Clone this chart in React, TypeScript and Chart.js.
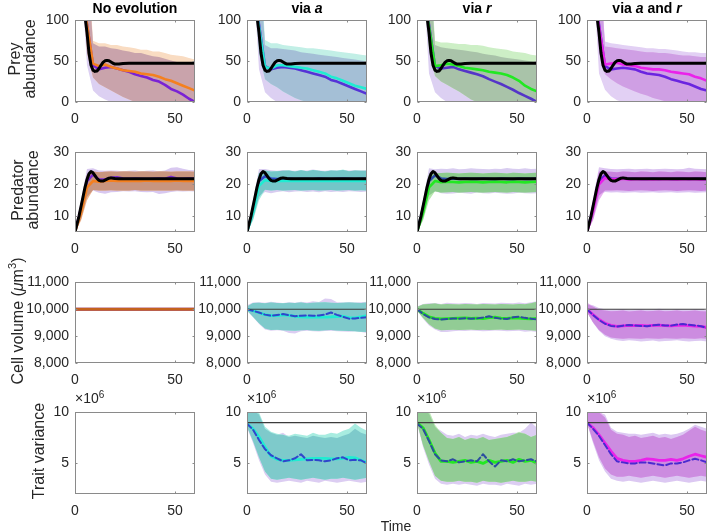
import React, { useEffect, useRef } from 'react';
import { Chart, registerables } from 'chart.js';
Chart.register(...registerables);

const FONT = '"Liberation Sans", Arial, Helvetica, sans-serif';
const TXT = '#262626';

// ---------- time axes ----------
const T = [0, 3, 6, 9, 12, 15, 18, 21, 24, 27, 30, 33, 36, 39, 42, 45, 48, 51, 54, 57, 60];
const TB = [0, 1, 2, 3, 4, 5, 6, 7, 8, 9, 10, 11, 12, 13, 14, 15, 16, 17, 18, 19, 20, 22, 24, 27, 30, 40, 50, 60];
const T_FLAT = [0, 60];

// ---------- deterministic (black) ----------
const PREY_BLACK = [400, 330, 260, 200, 150, 105, 85, 60, 45, 39, 37.5, 38, 41, 45, 48.5, 50.5, 51, 50.5, 49, 47.5, 46.5, 46.5, 47.2, 47.5, 47.5, 47.5, 47.5, 47.5];
const PRED_BLACK = [5, 7.5, 10, 13, 16, 19, 21.5, 23.3, 24, 23.6, 22.7, 21.8, 21.2, 21, 21, 21.3, 21.6, 21.9, 22, 21.9, 21.8, 21.7, 21.7, 21.7, 21.7, 21.7, 21.7, 21.7];
const VOL_BLACK = [10000, 10000];
const VAR_BLACK = [9, 9];

// ---------- tick labels ----------
const X_TICKS = [0, 50];
const PREY_TICKS = [0, 50, 100];
const PRED_TICKS = [10, 20, 30];
const VOL_TICKS = [8000, 9000, 10000, 11000];
const VAR_TICKS = [5, 10];

// ---------- Row 1: prey abundance ----------
const PREY_P1 = [160, 135, 95, 45, 40, 42, 43, 41, 39, 37, 34, 32, 30, 27, 25, 21, 16, 13, 9, 4, 0];
const PREY_C1 = [160, 135, 95, 47, 44, 46, 43, 41, 39, 38, 37, 35, 34, 33, 31, 28, 26, 23, 20, 17, 14];
const PREY_PHI1 = [400, 300, 180, 72, 68, 68, 66, 65, 63, 62, 60, 60, 58, 56, 55, 53, 51, 49, 48, 47, 46];
const PREY_PLO1 = [200, 160, 45, 14, 7, 3, 0, 0, 0, 0, 0, 0, 0, 0, 0, 0, 0, 0, 0, 0, 0];
const PREY_CHI1 = [450, 320, 200, 75, 72, 72, 70, 70, 68, 67, 66, 64, 64, 62, 62, 60, 58, 57, 56, 54, 52];
const PREY_CLO1 = [220, 170, 60, 30, 22, 18, 14, 10, 6, 3, 0, 0, 0, 0, 0, 0, 0, 0, 0, 0, 0];

const PREY_P2 = [160, 135, 95, 44, 40, 42, 43, 42, 41, 39, 37, 35, 33, 31, 27, 25, 22, 19, 16, 13, 10];
const PREY_C2 = [160, 135, 92, 43, 41, 45, 45, 44, 43, 42, 41, 39, 37, 35, 31, 29, 26, 23, 20, 18, 16];
const PREY_PHI2 = [400, 300, 180, 70, 66, 66, 65, 64, 63, 61, 60, 59, 58, 57, 56, 55, 54, 53, 52, 51, 50];
const PREY_PLO2 = [200, 160, 40, 12, 5, 0, 0, 0, 0, 0, 0, 0, 0, 0, 0, 0, 0, 0, 0, 0, 0];
const PREY_CHI2 = [450, 320, 200, 76, 72, 72, 70, 69, 68, 67, 66, 66, 65, 64, 63, 62, 61, 60, 59, 58, 57];
const PREY_CLO2 = [220, 170, 60, 28, 22, 18, 13, 9, 5, 2, 0, 0, 0, 0, 0, 0, 0, 0, 0, 0, 0];

const PREY_P3 = [160, 135, 95, 44, 41, 42, 43, 40, 38, 36, 34, 31.5, 28, 25, 22, 18.5, 15, 11, 7.5, 4, 0];
const PREY_C3 = [160, 135, 92, 44, 45, 47, 46, 44, 42, 41, 40, 39, 37, 36, 35, 33, 30, 26, 20, 16, 13];
const PREY_PHI3 = [400, 300, 180, 70, 67, 66, 65, 64, 63, 62, 61, 59, 58, 57, 55, 54, 53, 52, 51, 50, 49];
const PREY_PLO3 = [200, 160, 35, 12, 5, 0, 0, 0, 0, 0, 0, 0, 0, 0, 0, 0, 0, 0, 0, 0, 0];
const PREY_CHI3 = [450, 320, 200, 75, 73, 73, 72, 71, 71, 70, 70, 69, 67, 66, 65, 64, 62, 61, 60, 58, 57];
const PREY_CLO3 = [220, 170, 65, 32, 25, 21, 17, 13, 8, 3, 0, 0, 0, 0, 0, 0, 0, 0, 0, 0, 0];

const PREY_P4 = [160, 135, 95, 44, 40, 41, 42, 41, 40, 37, 35, 34, 33, 31, 28, 26, 24, 22, 19, 16, 14];
const PREY_C4 = [160, 135, 92, 46, 47, 48, 46, 45, 44, 42, 41, 40, 40, 39, 37, 36, 35, 34, 31, 29, 26];
const PREY_PHI4 = [400, 300, 180, 74, 72, 71, 70, 69, 68, 67, 66, 66, 65, 65, 64, 63, 62, 61, 61, 60, 60];
const PREY_PLO4 = [200, 160, 35, 15, 7, 2, 0, 0, 0, 0, 0, 0, 0, 0, 0, 0, 0, 0, 0, 0, 0];
const PREY_CHI4 = [450, 320, 200, 68, 67, 66, 65, 64, 63, 62, 61, 61, 60, 60, 59, 58, 57, 57, 56, 55, 55];
const PREY_CLO4 = [220, 170, 62, 34, 28, 23, 19, 16, 13, 10, 8, 5, 3, 1, 0, 0, 0, 0, 0, 0, 0];

// ---------- Row 2: predator abundance ----------
const PRED_P1 = [5, 12.5, 21, 23, 21.5, 21.5, 22, 22.2, 21.8, 21.7, 21.8, 21.7, 21.6, 21.7, 21.8, 21.7, 22.3, 21.8, 21.7, 21.8, 21.7];
const PRED_C1 = [5, 11, 19, 21, 20.8, 21, 21.2, 21, 21, 21.1, 21, 21, 21.2, 21, 21, 21.1, 21, 21.2, 21, 21, 21];
const PRED_PHI1 = [5.5, 15, 24.8, 25, 24.3, 24.2, 24.3, 24.2, 24.1, 24.2, 24.3, 24.1, 24.2, 24.3, 24.1, 24.3, 25.2, 25.3, 24.9, 24.5, 24.4];
const PRED_PLO1 = [5, 9, 16, 18, 17.3, 17, 17.5, 17.6, 17.8, 17.7, 17.8, 17.6, 17.5, 17.6, 16.9, 17.2, 17.6, 17.8, 17.7, 17.8, 17.7];
const PRED_CHI1 = [5.5, 14, 23, 24, 23.8, 23.9, 24, 23.9, 24, 24, 23.9, 24, 24, 23.9, 24, 24, 23.9, 24, 24, 24, 23.9];
const PRED_CLO1 = [5, 8.5, 15, 18.2, 18, 18, 18.1, 18, 18, 18, 18.2, 18, 18, 18, 18, 18, 18, 18.1, 18, 18, 18];

const PRED_P2 = [5, 12, 21, 22.5, 21.8, 21.6, 21.7, 21.8, 21.6, 21.7, 21.7, 21.6, 21.8, 21.7, 21.6, 21.7, 21.8, 21.7, 21.6, 21.7, 21.7];
const PRED_C2 = [5, 11, 19.5, 21.3, 21, 21, 21.1, 21, 21.1, 21, 21, 21, 21.1, 21, 21, 21.1, 21, 21.1, 21, 21, 21];
const PRED_PHI2 = [5.5, 15, 24.8, 24.8, 24.4, 24.2, 24.5, 24.3, 24.2, 24.4, 24.3, 24.6, 24.3, 24.2, 24.4, 24.3, 24.5, 24.3, 24.4, 24.3, 24.4];
const PRED_PLO2 = [5, 9, 16, 17.6, 17.2, 17.6, 17.8, 17.5, 17.7, 17.8, 17.6, 17.7, 17.5, 17.8, 17.6, 17.7, 17.6, 17.8, 17.7, 17.6, 17.7];
const PRED_CHI2 = [5.5, 14, 23.5, 24.3, 24, 24.1, 24.2, 24.3, 24, 24.4, 24.1, 24.5, 24.2, 24, 24.3, 24.2, 24.6, 24.1, 24.3, 24.2, 24.2];
const PRED_CLO2 = [5, 8.5, 15, 18.3, 18, 18.2, 18, 18.1, 18.2, 18, 18.1, 18.2, 18, 18.1, 18.2, 18, 18.1, 18.2, 18, 18.1, 18];

const PRED_P3 = [5, 12.5, 21, 22.8, 21.8, 21.6, 21.8, 21.7, 21.8, 21.7, 21.7, 21.8, 21.7, 21.6, 21.8, 21.7, 21.6, 21.8, 21.7, 21.7, 21.8];
const PRED_C3 = [5, 11, 19, 21, 20.6, 20.8, 20.7, 20.6, 20.7, 20.8, 20.7, 20.6, 20.7, 20.8, 20.7, 20.6, 20.8, 20.7, 20.6, 20.7, 20.8];
const PRED_PHI3 = [5.5, 15, 25, 24.7, 24.9, 24.8, 25, 24.7, 24.8, 25, 24.9, 24.8, 24.7, 24.9, 24.8, 25.1, 24.9, 24.8, 25, 24.8, 24.9];
const PRED_PLO3 = [5, 9, 16.5, 17.8, 17.2, 17, 17.1, 17.3, 17.2, 17, 17.4, 17.2, 17.1, 17.3, 17.2, 17, 17.1, 17.3, 17.2, 17.1, 17.2];
const PRED_CHI3 = [5.5, 14, 23, 23.4, 23.5, 23.6, 23.5, 23.4, 23.5, 23.6, 23.5, 23.4, 23.5, 23.6, 23.5, 23.4, 23.6, 23.5, 23.4, 23.5, 23.6];
const PRED_CLO3 = [5, 8.5, 15, 17.8, 17.4, 17.5, 17.6, 17.4, 17.5, 17.6, 17.5, 17.4, 17.5, 17.6, 17.5, 17.4, 17.6, 17.5, 17.4, 17.5, 17.6];

const PRED_P4 = [5, 12.5, 21, 22.8, 21.8, 21.7, 21.8, 21.7, 21.8, 21.7, 21.7, 21.8, 21.7, 21.8, 21.7, 21.7, 21.8, 21.7, 21.8, 21.7, 21.7];
const PRED_C4 = [5, 11.5, 20, 22, 21.5, 21.6, 21.7, 21.5, 21.6, 21.7, 21.6, 21.5, 21.6, 21.7, 21.6, 21.5, 21.6, 21.7, 21.6, 21.5, 21.6];
const PRED_PHI4 = [5.5, 15.5, 25.3, 25, 24.8, 24.7, 24.8, 24.9, 24.7, 24.8, 24.9, 24.7, 24.8, 24.9, 24.8, 24.7, 24.8, 25.2, 24.9, 24.8, 24.7];
const PRED_PLO4 = [5, 9, 16.5, 17.6, 17.4, 17.5, 17.3, 17.4, 17.5, 17.3, 17.4, 17.5, 17.3, 17.4, 17.5, 17.3, 17.4, 17.5, 17.3, 17.4, 17.5];
const PRED_CHI4 = [5.5, 14.5, 24, 24, 23.9, 23.8, 24, 23.9, 23.8, 24, 23.9, 23.8, 24, 23.9, 23.8, 24, 23.9, 23.8, 24, 23.9, 23.8];
const PRED_CLO4 = [5, 8.5, 15, 18, 18, 18.1, 18, 17.9, 18, 18.1, 18, 17.9, 18, 18.1, 18, 17.9, 18, 18.1, 18, 17.9, 18];

// ---------- Row 3: cell volume ----------
const VOL_P1 = [10000, 10000];
const VOL_C1 = [10000, 10000];

const VOL_P2 = [10000, 9940, 9880, 9800, 9760, 9790, 9820, 9780, 9740, 9760, 9770, 9760, 9770, 9800, 9880, 9790, 9720, 9650, 9660, 9680, 9700];
const VOL_C2 = [10000, 9950, 9870, 9800, 9760, 9760, 9790, 9770, 9740, 9720, 9705, 9705, 9710, 9705, 9715, 9730, 9740, 9690, 9680, 9720, 9760];
const VOL_PHI2 = [10150, 10250, 10260, 10240, 10280, 10250, 10230, 10260, 10240, 10280, 10250, 10300, 10270, 10400, 10380, 10260, 10250, 10270, 10250, 10260, 10280];
const VOL_PLO2 = [9950, 9700, 9450, 9250, 9200, 9220, 9200, 9120, 9100, 9180, 9200, 9180, 9170, 9190, 9200, 9180, 9170, 9160, 9180, 9150, 9120];
const VOL_CHI2 = [10100, 10230, 10240, 10220, 10250, 10230, 10220, 10240, 10230, 10250, 10220, 10240, 10250, 10260, 10240, 10230, 10240, 10250, 10240, 10230, 10250];
const VOL_CLO2 = [9950, 9720, 9480, 9280, 9230, 9240, 9220, 9210, 9200, 9220, 9230, 9210, 9200, 9220, 9230, 9210, 9200, 9190, 9180, 9160, 9150];

const VOL_P3 = [10000, 9830, 9700, 9640, 9620, 9640, 9660, 9650, 9670, 9650, 9660, 9690, 9740, 9680, 9650, 9640, 9700, 9720, 9680, 9650, 9620];
const VOL_C3 = [10000, 9850, 9720, 9660, 9640, 9650, 9660, 9670, 9680, 9660, 9670, 9650, 9690, 9710, 9670, 9660, 9680, 9670, 9650, 9640, 9660];
const VOL_PHI3 = [10100, 10200, 10220, 10230, 10200, 10240, 10220, 10210, 10230, 10220, 10200, 10230, 10220, 10210, 10240, 10230, 10220, 10250, 10220, 10260, 10300];
const VOL_PLO3 = [9950, 9650, 9400, 9250, 9150, 9150, 9180, 9200, 9190, 9210, 9200, 9180, 9190, 9210, 9200, 9180, 9190, 9200, 9160, 9180, 9150];
const VOL_CHI3 = [10080, 10180, 10200, 10210, 10180, 10200, 10190, 10180, 10200, 10190, 10180, 10200, 10190, 10180, 10200, 10190, 10180, 10200, 10190, 10220, 10280];
const VOL_CLO3 = [9950, 9680, 9440, 9280, 9220, 9230, 9240, 9230, 9240, 9250, 9230, 9240, 9230, 9240, 9250, 9230, 9240, 9250, 9230, 9220, 9200];

const VOL_P4 = [10000, 9790, 9600, 9460, 9380, 9360, 9390, 9410, 9400, 9380, 9370, 9400, 9420, 9400, 9390, 9430, 9450, 9420, 9400, 9370, 9300];
const VOL_C4 = [10000, 9800, 9620, 9480, 9400, 9360, 9380, 9400, 9390, 9400, 9380, 9400, 9410, 9390, 9380, 9400, 9410, 9390, 9370, 9360, 9320];
const VOL_PHI4 = [10200, 10150, 10050, 10000, 9990, 10000, 10010, 9980, 10000, 10010, 9990, 10000, 10020, 10000, 9990, 10010, 10000, 9990, 10010, 10000, 9990];
const VOL_PLO4 = [9900, 9500, 9200, 9000, 8900, 8850, 8820, 8850, 8830, 8800, 8820, 8840, 8800, 8820, 8830, 8850, 8820, 8800, 8820, 8830, 8800];
const VOL_CHI4 = [10250, 10100, 9980, 9950, 9930, 9940, 9950, 9920, 9940, 9950, 9930, 9940, 9950, 9930, 9940, 9950, 9930, 9940, 9950, 9930, 9920];
const VOL_CLO4 = [9900, 9520, 9230, 9050, 8950, 8920, 8900, 8920, 8910, 8900, 8920, 8910, 8900, 8920, 8910, 8900, 8920, 8910, 8900, 8920, 8900];

// ---------- Row 4: trait variance (x10^6) ----------
const VAR_P2 = [8.9, 8.3, 7.3, 6.4, 5.8, 5.5, 5.2, 5.3, 5.5, 5.9, 5.3, 5.35, 5.3, 5.2, 5.3, 5.5, 5.6, 5.3, 5.35, 5.3, 5.0];
const VAR_C2 = [8.9, 8.4, 7.6, 6.6, 5.7, 5.4, 5.3, 5.3, 5.35, 5.4, 5.45, 5.5, 5.5, 5.5, 5.45, 5.45, 5.5, 5.6, 5.55, 5.3, 5.1];
const VAR_PHI2 = [10.3, 10.2, 9.8, 8.4, 8.0, 7.8, 8.0, 7.6, 7.7, 7.6, 7.5, 7.7, 7.6, 7.5, 7.6, 7.5, 7.7, 7.9, 8.4, 8.0, 7.8];
const VAR_PLO2 = [8.5, 7.0, 5.3, 3.9, 3.2, 3.1, 3.2, 3.3, 3.2, 3.1, 3.3, 3.2, 3.1, 3.3, 3.2, 3.1, 3.2, 3.3, 3.2, 3.1, 3.2];
const VAR_CHI2 = [10.5, 10.4, 10.0, 8.6, 8.1, 7.9, 7.8, 7.7, 7.9, 7.8, 7.7, 8.0, 7.8, 7.8, 8.0, 7.9, 8.2, 8.4, 8.9, 8.5, 8.2];
const VAR_CLO2 = [8.6, 7.2, 5.6, 4.2, 3.5, 3.4, 3.5, 3.6, 3.5, 3.4, 3.5, 3.6, 3.5, 3.4, 3.5, 3.5, 3.6, 3.5, 3.4, 3.5, 3.6];

const VAR_P3 = [8.9, 8.4, 7.2, 5.9, 5.3, 5.2, 5.4, 5.1, 5.2, 5.3, 5.2, 5.9, 5.2, 4.7, 5.3, 5.2, 5.4, 5.2, 5.3, 5.4, 5.2];
const VAR_C3 = [9.0, 8.5, 7.3, 6.0, 5.2, 5.2, 5.1, 5.2, 5.3, 5.1, 5.2, 5.0, 5.3, 5.1, 5.2, 5.3, 5.1, 5.4, 5.2, 5.3, 5.0];
const VAR_PHI3 = [10.3, 10.1, 9.9, 8.6, 8.2, 7.8, 7.7, 7.9, 7.6, 7.8, 7.7, 7.9, 7.7, 7.6, 7.8, 7.9, 8.0, 8.0, 8.4, 9.0, 8.5];
const VAR_PLO3 = [8.9, 6.6, 4.9, 3.5, 3.0, 2.9, 3.0, 2.9, 3.0, 2.9, 2.8, 3.0, 2.9, 2.9, 2.8, 3.0, 2.9, 2.8, 3.0, 2.9, 3.0];
const VAR_CHI3 = [10.5, 10.4, 10.2, 8.8, 8.0, 7.5, 7.4, 7.6, 7.3, 7.5, 7.4, 7.6, 7.3, 7.4, 7.5, 7.6, 7.8, 8.1, 7.9, 7.6, 7.8];
const VAR_CLO3 = [9.0, 6.8, 5.2, 3.8, 3.3, 3.2, 3.2, 3.3, 3.2, 3.2, 3.1, 3.3, 3.2, 3.2, 3.1, 3.2, 3.3, 3.2, 3.2, 3.3, 3.2];

const VAR_P4 = [9.0, 8.4, 7.7, 6.8, 5.9, 5.2, 5.1, 5.0, 5.0, 5.1, 5.1, 5.0, 4.9, 4.8, 5.0, 5.0, 5.1, 5.3, 5.45, 5.3, 5.1];
const VAR_C4 = [9.0, 8.5, 7.8, 7.0, 6.2, 5.5, 5.3, 5.2, 5.2, 5.3, 5.45, 5.4, 5.3, 5.3, 5.4, 5.3, 5.45, 5.7, 5.9, 5.75, 5.6];
const VAR_PHI4 = [10.3, 10.2, 10.0, 9.8, 8.5, 8.1, 8.0, 7.9, 7.9, 7.8, 7.9, 8.0, 7.8, 7.9, 7.8, 7.9, 8.1, 8.4, 8.8, 8.6, 8.4];
const VAR_PLO4 = [8.9, 7.0, 5.3, 4.2, 3.5, 3.3, 3.2, 3.3, 3.2, 3.1, 3.2, 3.3, 3.2, 3.1, 3.2, 3.3, 3.2, 3.1, 3.2, 3.3, 3.2];
const VAR_CHI4 = [10.5, 10.4, 10.2, 9.5, 8.3, 7.9, 7.8, 7.6, 7.7, 7.5, 7.6, 7.7, 7.5, 7.6, 7.4, 7.6, 7.8, 8.2, 8.6, 8.3, 8.1];
const VAR_CLO4 = [9.0, 7.2, 5.6, 4.5, 3.9, 3.7, 3.7, 3.8, 3.7, 3.6, 3.7, 3.8, 3.7, 3.6, 3.7, 3.8, 3.7, 3.6, 3.7, 3.8, 3.7];

// ---------- layout & styles ----------
const COL_LEFT = [75, 247, 417, 587];
const PLOT_W = 120;
const ROW_TOP = [16, 148, 278, 408];
const ROW_BOTTOM = [102, 232, 363, 494];
const YW = 64, PT = 10, PR = 6, XH = 30;

const ORANGE = '#f4801f', CYAN = '#20ecd2', GREEN = '#22e822', MAGENTA = '#ea22ea';

const ROW_Y = [
  { min: 0, max: 100, ticks: PREY_TICKS },
  { min: 5, max: 30, ticks: PRED_TICKS },
  { min: 8000, max: 11000, ticks: VOL_TICKS },
  { min: 2, max: 10, ticks: VAR_TICKS },
];

type Spec = {
  r: number; c: number;
  t?: number[];
  p?: number[]; cl?: number[];
  phi?: number[]; plo?: number[]; chi?: number[]; clo?: number[];
  pal?: [string, string, string];
  pColor?: string; cColor?: string;
  dashed?: boolean;
  width?: number;
};

const PANELS: Spec[] = [
  { r: 0, c: 0, p: PREY_P1, cl: PREY_C1, phi: PREY_PHI1, plo: PREY_PLO1, chi: PREY_CHI1, clo: PREY_CLO1, pal: ['#dcd0f2', '#f9dcc2', '#c9a3ab'], pColor: '#7a22d4', cColor: ORANGE },
  { r: 0, c: 1, p: PREY_P2, cl: PREY_C2, phi: PREY_PHI2, plo: PREY_PLO2, chi: PREY_CHI2, clo: PREY_CLO2, pal: ['#dcd0f2', '#c2efe6', '#a4bfd6'], pColor: '#5533d6', cColor: CYAN },
  { r: 0, c: 2, p: PREY_P3, cl: PREY_C3, phi: PREY_PHI3, plo: PREY_PLO3, chi: PREY_CHI3, clo: PREY_CLO3, pal: ['#dcd0f2', '#cdefc6', '#a9c3a9'], pColor: '#5535c8', cColor: GREEN },
  { r: 0, c: 3, p: PREY_P4, cl: PREY_C4, phi: PREY_PHI4, plo: PREY_PLO4, chi: PREY_CHI4, clo: PREY_CLO4, pal: ['#e2d0f4', '#e8c4f0', '#cf9fe4'], pColor: '#6a24e0', cColor: MAGENTA },

  { r: 1, c: 0, p: PRED_P1, cl: PRED_C1, phi: PRED_PHI1, plo: PRED_PLO1, chi: PRED_CHI1, clo: PRED_CLO1, pal: ['#d8c8f0', '#f2b890', '#c8957f'], pColor: '#7a2ad0', cColor: ORANGE },
  { r: 1, c: 1, p: PRED_P2, cl: PRED_C2, phi: PRED_PHI2, plo: PRED_PLO2, chi: PRED_CHI2, clo: PRED_CLO2, pal: ['#d8ccf0', '#a8ece0', '#74c6c8'], pColor: '#3048c8', cColor: CYAN },
  { r: 1, c: 2, p: PRED_P3, cl: PRED_C3, phi: PRED_PHI3, plo: PRED_PLO3, chi: PRED_CHI3, clo: PRED_CLO3, pal: ['#d8ccf0', '#b8e8b0', '#8ccb8e'], pColor: '#2c4aa8', cColor: GREEN },
  { r: 1, c: 3, p: PRED_P4, cl: PRED_C4, phi: PRED_PHI4, plo: PRED_PLO4, chi: PRED_CHI4, clo: PRED_CLO4, pal: ['#dcc4f2', '#e8b0f0', '#c883dd'], pColor: '#6a24d8', cColor: MAGENTA },

  { r: 2, c: 0, t: T_FLAT, p: VOL_P1, cl: VOL_C1, pColor: '#7a2ad0', cColor: '#c4621e', width: 3.2 },
  { r: 2, c: 1, p: VOL_P2, cl: VOL_C2, phi: VOL_PHI2, plo: VOL_PLO2, chi: VOL_CHI2, clo: VOL_CLO2, pal: ['#dccdf2', '#a8ece0', '#7ecacb'], pColor: '#2f46cc', cColor: CYAN, dashed: true },
  { r: 2, c: 2, p: VOL_P3, cl: VOL_C3, phi: VOL_PHI3, plo: VOL_PLO3, chi: VOL_CHI3, clo: VOL_CLO3, pal: ['#dccdf2', '#bfe9b8', '#92cc95'], pColor: '#2c4ca0', cColor: GREEN, dashed: true },
  { r: 2, c: 3, p: VOL_P4, cl: VOL_C4, phi: VOL_PHI4, plo: VOL_PLO4, chi: VOL_CHI4, clo: VOL_CLO4, pal: ['#dcc8f2', '#e6b2f0', '#cc8ce0'], pColor: '#4a2ad0', cColor: MAGENTA, dashed: true },

  { r: 3, c: 0 },
  { r: 3, c: 1, p: VAR_P2, cl: VAR_C2, phi: VAR_PHI2, plo: VAR_PLO2, chi: VAR_CHI2, clo: VAR_CLO2, pal: ['#dccdf2', '#a8ece0', '#7ecacb'], pColor: '#2f46cc', cColor: CYAN, dashed: true },
  { r: 3, c: 2, p: VAR_P3, cl: VAR_C3, phi: VAR_PHI3, plo: VAR_PLO3, chi: VAR_CHI3, clo: VAR_CLO3, pal: ['#dccdf2', '#bfe9b8', '#92cc95'], pColor: '#2c4ca0', cColor: GREEN, dashed: true },
  { r: 3, c: 3, p: VAR_P4, cl: VAR_C4, phi: VAR_PHI4, plo: VAR_PLO4, chi: VAR_CHI4, clo: VAR_CLO4, pal: ['#dcc8f2', '#e6b2f0', '#cc8ce0'], pColor: '#4a2ad0', cColor: MAGENTA, dashed: true },
];

const pts = (xs: number[], ys: number[]) => ys.map((y, i) => ({ x: xs[i], y }));

const bandTop = (xs: number[], ys: number[], color: string, order: number) => ({
  data: pts(xs, ys), borderWidth: 0, borderColor: 'rgba(0,0,0,0)', pointRadius: 0, fill: '+1', backgroundColor: color, order,
});
const bandBottom = (xs: number[], ys: number[], order: number) => ({
  data: pts(xs, ys), borderWidth: 0, borderColor: 'rgba(0,0,0,0)', pointRadius: 0, fill: false, order,
});
const line = (xs: number[], ys: number[], color: string, width: number, order: number, dash?: number[]) => ({
  data: pts(xs, ys), borderColor: color, borderWidth: width, pointRadius: 0, fill: false, order,
  borderDash: dash || [], borderCapStyle: 'round', borderJoinStyle: 'round', tension: 0,
});

function buildDatasets(s: Spec) {
  const ds: any[] = [];
  const xs = s.t || T;
  if (s.phi && s.plo && s.chi && s.clo && s.pal) {
    const ovLo = s.plo.map((v, i) => Math.max(v, s.clo![i]));
    const ovHi = s.phi.map((v, i) => Math.max(Math.min(v, s.chi![i]), ovLo[i]));
    ds.push(bandTop(xs, s.phi, s.pal[0], 20), bandBottom(xs, s.plo, 20));
    ds.push(bandTop(xs, s.chi, s.pal[1], 19), bandBottom(xs, s.clo, 19));
    ds.push(bandTop(xs, ovHi, s.pal[2], 18), bandBottom(xs, ovLo, 18));
  }
  const w = s.width || 2.6;
  if (s.p && s.cl) {
    if (s.dashed) {
      ds.push(line(xs, s.cl, s.cColor!, 2.8, 6));
      ds.push(line(xs, s.p, s.pColor!, 2, 5, [6, 3]));
    } else {
      ds.push(line(xs, s.p, s.pColor!, w, 6));
      ds.push(line(xs, s.cl, s.cColor!, w, 5));
    }
  }
  if (s.r === 0) ds.push(line(TB, PREY_BLACK, '#000000', 3, 1));
  if (s.r === 1) ds.push(line(TB, PRED_BLACK, '#000000', 3, 1));
  if (s.r === 2 && s.c > 0) ds.push(line(T_FLAT, VOL_BLACK, '#3c3c3c', 1.2, 1));
  if (s.r === 3 && s.c > 0) ds.push(line(T_FLAT, VAR_BLACK, '#3c3c3c', 1.2, 1));
  return ds;
}

const boxPlugin = {
  id: 'matlabBox',
  afterDraw(chart: any) {
    const { ctx, chartArea: a, scales } = chart;
    ctx.save();
    ctx.strokeStyle = '#8a8a8a';
    ctx.lineWidth = 1;
    const L = Math.round(a.left) + 0.5, R = Math.round(a.right) - 0.5;
    const Tp = Math.round(a.top) + 0.5, B = Math.round(a.bottom) - 0.5;
    ctx.strokeRect(L, Tp, R - L, B - Tp);
    ctx.beginPath();
    scales.x.ticks.forEach((t: any) => {
      const px = Math.round(scales.x.getPixelForValue(t.value)) + 0.5;
      ctx.moveTo(px, B); ctx.lineTo(px, B - 2);
      ctx.moveTo(px, Tp); ctx.lineTo(px, Tp + 2);
    });
    scales.y.ticks.forEach((t: any) => {
      const py = Math.round(scales.y.getPixelForValue(t.value)) + 0.5;
      ctx.moveTo(L, py); ctx.lineTo(L + 2, py);
      ctx.moveTo(R, py); ctx.lineTo(R - 2, py);
    });
    ctx.stroke();
    ctx.restore();
  },
};

function Panel({ spec }: { spec: Spec }) {
  const ref = useRef<HTMLCanvasElement>(null);
  const plotH = ROW_BOTTOM[spec.r] - ROW_TOP[spec.r];
  const W = YW + PLOT_W + PR;
  const H = PT + plotH + XH;
  useEffect(() => {
    const yc = ROW_Y[spec.r];
    const tickFont = { family: FONT, size: 14 };
    const chart = new Chart(ref.current!, {
      type: 'line',
      data: { datasets: buildDatasets(spec) },
      plugins: [boxPlugin],
      options: {
        responsive: false,
        animation: false,
        devicePixelRatio: 1,
        events: [],
        layout: { padding: { top: PT, right: PR, left: 0, bottom: 0 } },
        plugins: { legend: { display: false }, tooltip: { enabled: false } },
        scales: {
          x: {
            type: 'linear', min: 0, max: 60,
            afterBuildTicks: (s: any) => { s.ticks = X_TICKS.map((v) => ({ value: v })); },
            afterFit: (s: any) => { s.height = XH; },
            grid: { display: false, drawTicks: false },
            border: { display: false },
            ticks: { padding: 9, font: tickFont, color: TXT, maxRotation: 0, autoSkip: false, callback: (v: any) => String(v) },
          },
          y: {
            type: 'linear', min: yc.min, max: yc.max,
            afterBuildTicks: (s: any) => { s.ticks = yc.ticks.map((v) => ({ value: v })); },
            afterFit: (s: any) => { s.width = YW; },
            grid: { display: false, drawTicks: false },
            border: { display: false },
            ticks: {
              padding: 6, font: tickFont, color: TXT, autoSkip: false,
              callback: (v: any) => (spec.r === 2 ? Number(v).toLocaleString('en-US') : String(v)),
            },
          },
        },
      } as any,
    });
    return () => chart.destroy();
  }, []);
  return (
    <canvas
      ref={ref}
      width={W}
      height={H}
      style={{ position: 'absolute', left: COL_LEFT[spec.c] - YW, top: ROW_TOP[spec.r] - PT, width: W, height: H }}
    />
  );
}

const TITLES: React.ReactNode[] = [
  <>No evolution</>,
  <>via <i>a</i></>,
  <>via <i>r</i></>,
  <>via <i>a</i> and <i>r</i></>,
];

const ROW_LABELS: { node: React.ReactNode; x: number }[] = [
  { node: <>Prey<br />abundance</>, x: 22 },
  { node: <>Predator<br />abundance</>, x: 25 },
  { node: <>Cell volume (<i>μ</i>m<sup style={{ fontSize: '70%' }}>3</sup>)</>, x: 15 },
  { node: <>Trait variance</>, x: 38 },
];

export default function App() {
  return (
    <div style={{ position: 'absolute', left: 0, top: 0, width: 709, height: 532, background: '#fff', fontFamily: FONT, color: TXT, overflow: 'hidden' }}>
      {PANELS.map((s) => <Panel key={`${s.r}-${s.c}`} spec={s} />)}
      {TITLES.map((t, i) => (
        <div key={i} style={{ position: 'absolute', left: COL_LEFT[i] + PLOT_W / 2, top: 0, transform: 'translateX(-50%)', fontWeight: 'bold', fontSize: 14, color: '#000', whiteSpace: 'nowrap', lineHeight: '16px' }}>{t}</div>
      ))}
      {ROW_LABELS.map((l, i) => (
        <div key={i} style={{ position: 'absolute', left: l.x, top: (ROW_TOP[i] + ROW_BOTTOM[i]) / 2, transform: 'translate(-50%, -50%) rotate(-90deg)', fontSize: 16, lineHeight: '15px', textAlign: 'center', whiteSpace: 'nowrap' }}>{l.node}</div>
      ))}
      {COL_LEFT.map((x, i) => (
        <div key={i} style={{ position: 'absolute', left: x, top: 391, fontSize: 14, lineHeight: '14px', whiteSpace: 'nowrap' }}>×10<sup style={{ fontSize: 10, verticalAlign: 'top', position: 'relative', top: -3 }}>6</sup></div>
      ))}
      <div style={{ position: 'absolute', left: 396, top: 519, transform: 'translateX(-50%)', fontSize: 14, lineHeight: '14px' }}>Time</div>
    </div>
  );
}
